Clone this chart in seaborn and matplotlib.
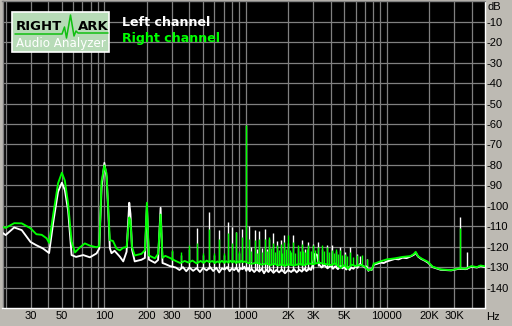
import matplotlib
matplotlib.use("Agg")
import matplotlib.pyplot as plt
import seaborn as sns
from matplotlib.patches import Rectangle
from matplotlib.lines import Line2D

# ---------------- data ----------------
left_floor_hz = [19, 20, 23, 26, 30, 33, 36.8, 40.6, 43.4, 47,
                 50, 52.5, 55.4, 58.6, 63, 70.8, 79, 88, 92, 95.5,
                 100, 103.6, 106.4, 109.3, 112.3, 118, 128.7, 136, 143.6, 150,
                 153, 157, 164, 183, 193.5, 200, 206.5, 228, 240, 250,
                 258, 270, 291, 320, 340, 360, 380, 400, 425, 450,
                 475, 500, 530, 560, 590, 620, 650, 680, 710, 740,
                 770, 800, 830, 860, 890, 920, 950, 980, 1010, 1040,
                 1070, 1100, 1150, 1200, 1250, 1300, 1350, 1400, 1450, 1500,
                 1575, 1650, 1725, 1800, 1900, 2000, 2100, 2200, 2300, 2400,
                 2500, 2600, 2700, 2800, 2900, 3000, 3100, 3200, 3300, 3450,
                 3600, 3800, 4000, 4150, 4300, 4500, 4700, 4850, 5000, 5150,
                 5300, 5450, 5600, 5800, 6000, 6200, 6450, 6700, 7000, 7200,
                 7400, 7600, 7800, 8100, 8500, 9000, 9500, 10000, 10700, 11400,
                 12100, 12900, 13800, 14700, 15500, 16000, 16600, 17500, 18500, 19500,
                 21100, 24000, 28500, 32400, 36000, 39700, 43400, 46000, 49500]
left_floor_db = [-113.2, -114.3, -110.6, -111.9, -117.7, -119.3, -120.9, -123.1, -108.3, -93.1,
                 -88.7, -92.3, -102.4, -124.1, -125.0, -124.1, -125.2, -123.3, -120.9, -91.4,
                 -79.0, -86.0, -102.0, -120.7, -123.2, -122.0, -124.9, -127.2, -122.5, -98.5,
                 -104.0, -121.5, -127.2, -126.4, -125.5, -100.0, -126.3, -127.9, -126.5, -101.0,
                 -128.0, -128.5, -129.5, -130.2, -131.4, -130.0, -132.0, -130.2, -131.8, -130.5,
                 -132.4, -130.4, -131.6, -130.0, -131.9, -130.3, -132.6, -130.6, -131.2, -130.0,
                 -132.0, -130.6, -131.5, -130.2, -132.2, -130.5, -131.0, -129.8, -131.8, -130.4,
                 -132.0, -130.8, -132.4, -131.0, -132.2, -130.8, -133.0, -131.2, -132.4, -131.0,
                 -132.8, -131.4, -132.6, -131.2, -133.0, -131.4, -132.4, -131.0, -132.6, -131.2,
                 -132.2, -130.8, -132.0, -130.6, -131.4, -128.5, -123.5, -124.0, -128.6, -130.2,
                 -129.0, -130.6, -129.2, -130.8, -129.6, -131.0, -129.4, -130.6, -129.8, -131.2,
                 -130.0, -131.4, -130.2, -130.8, -129.6, -130.2, -128.5, -129.2, -130.2, -129.6,
                 -131.8, -131.0, -131.4, -128.8, -128.4, -127.8, -128.0, -127.2, -126.6, -126.0,
                 -126.2, -125.4, -125.6, -124.8, -124.0, -123.0, -124.8, -126.0, -126.8, -127.8,
                 -130.0, -131.3, -131.6, -130.8, -131.0, -129.8, -130.2, -129.4, -130.0]

right_floor_hz = [19, 20, 23, 26, 30, 33, 36, 39, 40.6, 43.4,
                  47, 50, 52.5, 55.4, 58.6, 62, 67, 72.7, 79, 88,
                  92, 95.5, 100, 103.6, 106.4, 109.3, 115, 122, 128.7, 136,
                  143.6, 150, 153, 157, 164, 183, 193.5, 200, 206.5, 228,
                  240, 250, 258, 270, 291, 320, 345, 370, 395, 420,
                  450, 480, 505, 530, 555, 580, 605, 630, 655, 680,
                  705, 730, 755, 780, 805, 830, 855, 880, 905, 930,
                  955, 980, 1030, 1100, 1200, 1300, 1400, 1500, 1600, 1700,
                  1800, 1900, 2000, 2200, 2400, 2600, 2800, 3000, 3300, 3600,
                  4000, 4300, 4700, 5000, 5300, 5600, 6000, 6500, 7000, 7400,
                  7800, 8100, 9000, 10000, 11400, 12900, 14700, 15500, 16000, 16600,
                  17500, 18500, 19500, 21100, 24000, 28500, 32400, 36000, 39700, 43400,
                  46000, 49500]
right_floor_db = [-110.3, -110.8, -108.5, -108.6, -111.0, -113.9, -114.2, -115.9, -118.1, -104.3,
                  -89.0, -83.8, -87.7, -99.1, -117.5, -122.8, -120.4, -118.4, -119.5, -120.3,
                  -119.7, -88.1, -80.3, -84.1, -100.5, -116.8, -117.2, -121.0, -121.8, -120.5,
                  -120.2, -105.7, -107.3, -120.2, -124.3, -123.5, -121.8, -98.5, -124.3, -125.7,
                  -123.5, -104.3, -125.4, -124.5, -125.5, -127.0, -128.0, -127.0, -127.8, -126.8,
                  -128.2, -127.0, -127.9, -126.8, -127.6, -127.0, -128.0, -127.2, -127.8, -126.9,
                  -127.9, -127.1, -127.8, -126.9, -127.7, -127.0, -128.0, -127.2, -127.8, -126.9,
                  -127.6, -127.2, -127.8, -128.4, -127.8, -128.8, -128.2, -129.0, -128.4, -129.2,
                  -128.6, -129.4, -128.6, -129.2, -128.4, -129.0, -128.2, -128.6, -127.8, -128.4,
                  -129.0, -128.2, -130.4, -129.0, -130.8, -128.8, -129.4, -129.0, -129.8, -131.5,
                  -131.2, -128.4, -127.2, -126.2, -125.7, -125.0, -124.6, -123.6, -122.5, -124.6,
                  -125.7, -126.6, -127.4, -129.8, -131.1, -131.5, -130.6, -130.8, -129.5, -130.0,
                  -129.2, -129.6]

left_spike_hz = [300, 350, 400, 450, 500, 550, 600, 650, 700, 750,
                 800, 850, 900, 950, 1000, 1050, 1100, 1160, 1200, 1250,
                 1300, 1370, 1410, 1460, 1560, 1660, 1780, 1870, 1980, 2160,
                 2350, 2490, 2630, 2770, 2980, 3270, 3450, 3780, 4060, 4360,
                 4650, 5050, 5480, 6110, 6450, 7190, 33000, 37000]
left_spike_top = [-122.0, -124.0, -121.0, -111.1, -124.0, -102.9, -124.0, -111.9, -124.0, -107.8,
                  -110.5, -112.7, -123.0, -111.4, -60.5, -109.8, -120.0, -112.0, -121.0, -112.5,
                  -120.5, -111.2, -121.0, -116.0, -113.2, -117.0, -116.9, -114.5, -118.0, -114.5,
                  -120.5, -116.9, -121.0, -117.8, -118.6, -117.8, -121.0, -119.4, -119.4, -122.0,
                  -120.2, -122.7, -120.2, -123.5, -124.5, -125.9, -105.4, -122.5]
left_spike_base = [-130.0, -130.5, -130.5, -130.8, -130.6, -130.8, -130.8, -130.8, -130.8, -130.8,
                   -130.8, -130.8, -130.8, -130.8, -130.8, -131.0, -131.0, -131.2, -131.2, -131.4,
                   -131.4, -131.6, -131.6, -131.6, -131.8, -131.8, -132.0, -132.0, -132.0, -131.8,
                   -131.8, -131.6, -131.4, -131.2, -130.8, -129.5, -129.8, -129.8, -129.8, -130.0,
                   -130.0, -130.2, -130.4, -130.2, -129.2, -130.0, -130.8, -131.0]

right_spike_hz = [300, 350, 400, 450, 500, 550, 600, 650, 700, 750,
                  800, 850, 900, 950, 1000, 1050, 1100, 1160, 1200, 1250,
                  1300, 1370, 1410, 1460, 1510, 1560, 1610, 1660, 1710, 1780,
                  1820, 1870, 1930, 1980, 2050, 2100, 2160, 2250, 2350, 2420,
                  2490, 2560, 2630, 2700, 2770, 2880, 2980, 3100, 3270, 3450,
                  3600, 3780, 3920, 4060, 4200, 4360, 4500, 4650, 4850, 5050,
                  5250, 5480, 5800, 6110, 6630, 7190, 8010, 33000]
right_spike_top = [-121.5, -122.5, -119.2, -118.4, -123.3, -111.5, -123.0, -116.0, -123.0, -113.5,
                   -118.0, -113.0, -122.0, -115.5, -60.5, -116.0, -122.0, -116.9, -123.0, -116.0,
                   -122.5, -116.1, -122.0, -115.3, -120.5, -118.4, -122.5, -119.4, -121.5, -118.6,
                   -123.0, -117.8, -121.0, -114.5, -121.5, -122.5, -117.8, -123.0, -119.4, -122.0,
                   -118.6, -122.0, -122.7, -121.0, -119.4, -122.0, -119.4, -121.5, -120.2, -119.4,
                   -122.0, -120.2, -122.5, -121.8, -123.0, -121.0, -123.5, -121.8, -124.0, -123.5,
                   -124.5, -122.7, -125.0, -124.3, -124.3, -126.0, -127.5, -111.1]
right_spike_base = [-126.5, -127.0, -127.2, -127.5, -127.5, -127.2, -127.4, -127.5, -127.5, -127.2,
                    -127.0, -127.2, -127.2, -127.4, -127.2, -127.4, -127.6, -127.8, -128.0, -128.0,
                    -128.2, -128.2, -128.4, -128.4, -128.4, -128.6, -128.6, -128.6, -128.6, -128.8,
                    -128.8, -128.8, -128.8, -128.8, -128.8, -128.8, -128.8, -128.8, -128.8, -128.8,
                    -128.8, -128.6, -128.6, -128.6, -128.6, -128.4, -128.4, -128.2, -128.2, -128.2,
                    -128.4, -128.6, -128.6, -128.8, -128.6, -128.4, -128.8, -129.2, -129.6, -129.4,
                    -129.6, -129.4, -129.2, -129.2, -129.2, -129.6, -129.0, -130.6]

x_tick_hz = [30, 50, 100, 200, 300, 500, 1000, 2000, 3000, 5000, 10000, 20000, 30000]
x_tick_labels = ["30", "50", "100", "200", "300", "500", "1000", "2K", "3K", "5K", "10000", "20K", "30K"]
y_ticks = [-10, -20, -30, -40, -50, -60, -70, -80, -90, -100, -110, -120, -130, -140]
legend_labels = ["Left channel", "Right channel"]

# ---------------- style ----------------
W, H = 512, 326
BG = "#bdbab3"
GRID = "#808080"
LEFT_COLOR = "#ffffff"
RIGHT_COLOR = "#00ff00"

sns.set_style("dark")
plt.rcParams["font.family"] = ["Liberation Sans", "DejaVu Sans"]

fig = plt.figure(figsize=(W / 100, H / 100), dpi=100, facecolor=BG)


def fx(px):
    return px / W


def fy(py):
    return 1 - py / H


ax = fig.add_axes([fx(2.5), fy(308), fx(485) - fx(2.5), fy(1.4) - fy(308)])
ax.set_facecolor("black")
ax.set_xscale("log")
ax.set_xlim(19, 49500)
ax.set_ylim(-150, 0)

# grid
grid_hz = [m * d for d in (10, 100, 1000, 10000) for m in range(1, 10) if 19 < m * d < 49500]
for g in grid_hz:
    ax.axvline(g, color=GRID, lw=0.9, zorder=1)
for g in range(-140, 0, 10):
    ax.axhline(g, color=GRID, lw=0.9, zorder=1)
ax.grid(False)

# curves
sns.lineplot(x=left_floor_hz, y=left_floor_db, ax=ax, color=LEFT_COLOR, lw=1.35, sort=False,
             estimator=None, zorder=3)
ax.vlines(left_spike_hz, left_spike_base, left_spike_top, colors=LEFT_COLOR, lw=1.0, zorder=3)
sns.lineplot(x=right_floor_hz, y=right_floor_db, ax=ax, color=RIGHT_COLOR, lw=1.35, sort=False,
             estimator=None, zorder=4)
ax.vlines(right_spike_hz, right_spike_base, right_spike_top, colors=RIGHT_COLOR, lw=1.0, zorder=4)

# ticks
ax.set_xticks(x_tick_hz)
ax.set_xticklabels(x_tick_labels)
ax.xaxis.set_minor_locator(matplotlib.ticker.NullLocator())
ax.set_yticks(y_ticks)
ax.set_yticklabels([str(v) for v in y_ticks])
ax.yaxis.tick_right()
ax.tick_params(axis="x", length=0, pad=2.5, labelsize=8, colors="black")
ax.tick_params(axis="y", length=0, pad=1.2, labelsize=8, colors="black")
ax.set_xlabel("")
ax.set_ylabel("")

for s in ("left", "top"):
    ax.spines[s].set_color(GRID)
    ax.spines[s].set_linewidth(1.0)
for s in ("bottom", "right"):
    ax.spines[s].set_color("white")
    ax.spines[s].set_linewidth(1.0)

fig.text(fx(487), fy(7), "dB", fontsize=8, va="center", ha="left", color="black")
fig.text(fx(486), fy(317), "Hz", fontsize=8, va="center", ha="left", color="black")

# legend texts
fig.text(fx(122), fy(23), legend_labels[0], color=LEFT_COLOR, fontsize=9.1, fontweight="bold",
         family="DejaVu Sans", va="center", ha="left")
fig.text(fx(122), fy(38.5), legend_labels[1], color=RIGHT_COLOR, fontsize=9.1, fontweight="bold",
         family="DejaVu Sans", va="center", ha="left")

# logo
fig.add_artist(Rectangle((fx(12), fy(52)), fx(97), fy(12) - fy(52), transform=fig.transFigure,
                         facecolor="#b7dbb7", edgecolor="white", lw=1.2, zorder=5))
wave_x = [15, 62, 64.5, 66.5, 70.5, 74, 76, 78, 108]
wave_y = [34, 34, 27, 38, 15, 36, 31, 33, 33]
fig.add_artist(Line2D([fx(v) for v in wave_x], [fy(v) for v in wave_y], transform=fig.transFigure,
                      color="#10c010", lw=1.1, zorder=6))
fig.text(fx(16), fy(27), "RIGHT", color="black", fontsize=9.5, fontweight="bold", family="DejaVu Sans",
         va="center", ha="left", zorder=7)
fig.text(fx(78), fy(27), "ARK", color="black", fontsize=9.5, fontweight="bold", family="DejaVu Sans",
         va="center", ha="left", zorder=7)
fig.text(fx(16), fy(43.5), "Audio Analyzer", color="white", fontsize=8.6, family="DejaVu Sans",
         va="center", ha="left", zorder=7)

fig.savefig("out.png", dpi=100, facecolor=BG)
